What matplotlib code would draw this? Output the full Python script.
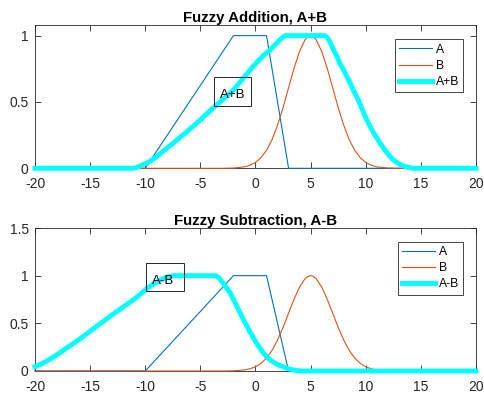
import matplotlib
matplotlib.use("Agg")
import matplotlib.pyplot as plt
from matplotlib.patches import Rectangle

plt.rcParams['font.family'] = ['Liberation Sans', 'DejaVu Sans']
plt.rcParams['axes.unicode_minus'] = False

# ---- data ----
a_x = [-20, -10, -2, 1, 3, 20]
a_y = [0, 0, 1, 1, 0, 0]

b_x = [-20, -3, -2, -1, -0.5, 0, 0.5, 1, 1.5, 2, 2.5, 3, 3.5, 4, 4.5, 4.75, 5,
       5.25, 5.5, 6, 6.5, 7, 7.5, 8, 8.5, 9, 9.5, 10, 10.5, 11, 12, 13, 20]
b_y = [0, 0, 0.002, 0.011, 0.023, 0.044, 0.080, 0.135, 0.216, 0.325, 0.458, 0.607, 0.755, 0.882, 0.969, 0.992, 1.0,
       0.992, 0.969, 0.882, 0.755, 0.607, 0.458, 0.325, 0.216, 0.135, 0.080, 0.044, 0.023, 0.011, 0.002, 0, 0]

sum_x = [-20, -11.1, -10.8, -10.4, -10.0, -9.6, -9.0, -8.5, -8.0, -7.45, -6.9, -6.3, -5.7, -5.0,
         -4.3, -3.5, -2.8, -2.0, -1.5, -1.0, -0.6, -0.2, 0.2, 0.6, 1.0, 1.3, 1.7, 2.0, 2.3, 2.5, 2.7,
         6.3, 6.5, 6.7, 6.9, 7.1, 7.4, 7.66, 8.0, 8.3, 8.6, 8.87, 9.2, 9.5, 9.8, 10.09, 10.4, 10.7,
         11.0, 11.29, 11.6, 11.9, 12.2, 12.5, 12.85, 13.2, 13.6, 14.0, 14.3, 20]
sum_y = [0, 0, 0.005, 0.02, 0.035, 0.05, 0.085, 0.12, 0.155, 0.19, 0.23, 0.27, 0.315, 0.365,
         0.42, 0.48, 0.53, 0.59, 0.64, 0.69, 0.73, 0.77, 0.805, 0.84, 0.87, 0.89, 0.925, 0.95, 0.975, 0.99, 1.0,
         1.0, 0.985, 0.96, 0.925, 0.89, 0.84, 0.79, 0.74, 0.69, 0.64, 0.59, 0.535, 0.48, 0.42, 0.365, 0.315, 0.27,
         0.23, 0.19, 0.155, 0.12, 0.09, 0.063, 0.042, 0.025, 0.012, 0.004, 0, 0]

diff_x = [-20, -19.5, -19, -18.5, -18, -17.4, -16.7, -16, -15.2, -14.4, -13.7, -13, -12.2, -11.4,
          -10.6, -9.9, -9.3, -8.7, -8.3, -8.0, -7.7, -7.4,
          -3.6, -3.3, -3.0, -2.65, -2.3, -2.0, -1.7, -1.4, -1.1, -0.8, -0.5, -0.2, 0.1, 0.4, 0.7,
          1.0, 1.3, 1.6, 1.9, 2.2, 2.5, 2.8, 3.1, 3.4, 3.7, 4.0, 4.3, 20]
diff_y = [0.045, 0.07, 0.10, 0.135, 0.17, 0.22, 0.275, 0.33, 0.40, 0.47, 0.53, 0.59, 0.655, 0.72,
          0.79, 0.86, 0.91, 0.95, 0.972, 0.985, 0.995, 1.0,
          1.0, 0.975, 0.93, 0.875, 0.82, 0.75, 0.68, 0.61, 0.54, 0.475, 0.41, 0.35, 0.29, 0.24, 0.19,
          0.15, 0.12, 0.095, 0.075, 0.058, 0.045, 0.03, 0.02, 0.011, 0.005, 0.002, 0, 0]

x_ticks = [-20, -15, -10, -5, 0, 5, 10, 15, 20]
top_yticks = [0, 0.5, 1]
bot_yticks = [0, 0.5, 1, 1.5]

C_A = '#0072BD'
C_B = '#D95319'
C_C = '#00FFFF'
DARK = '#262626'

fig = plt.figure(figsize=(4.85, 3.96), dpi=100)
W, H = 485, 396

def make_axes(top_px, bottom_px):
    left, right = 35, 476
    return fig.add_axes([left / W, 1 - bottom_px / H, (right - left) / W, (bottom_px - top_px) / H])

ax1 = make_axes(25, 168.3)
ax2 = make_axes(228, 371)

def style(ax, yticks, ylim):
    ax.set_xlim(-20, 20)
    ax.set_ylim(*ylim)
    ax.set_xticks(x_ticks)
    ax.set_xticklabels([str(t) for t in x_ticks])
    ax.set_yticks(yticks)
    ax.set_yticklabels(['%g' % t for t in yticks])
    ax.tick_params(direction='in', length=4, width=0.6, colors=DARK, labelsize=10,
                   top=True, right=True)
    ax.tick_params(axis='x', pad=6.5)
    ax.tick_params(axis='y', pad=4.5)
    for s in ax.spines.values():
        s.set_linewidth(0.6)
        s.set_color(DARK)
        s.set_zorder(1)

def draw(ax, cx, cy, clabel):
    ax.plot(a_x, a_y, color=C_A, lw=0.8, label='A', zorder=3, clip_on=False)
    ax.plot(b_x, b_y, color=C_B, lw=0.8, label='B', zorder=3, clip_on=False)
    ax.plot(cx, cy, color=C_C, lw=3.5, label=clabel, zorder=4, clip_on=False,
            solid_joinstyle='round')

draw(ax1, sum_x, sum_y, 'A+B')
style(ax1, top_yticks, (0, 1.08))
ax1.set_title('Fuzzy Addition, A+B', fontsize=10.8, fontweight='bold', color='black', pad=2.5)

draw(ax2, diff_x, diff_y, 'A-B')
style(ax2, bot_yticks, (0, 1.5))
ax2.set_title('Fuzzy Subtraction, A-B', fontsize=10.8, fontweight='bold', color='black', pad=2.5)

for ax, anchor_y in ((ax1, 0.900), (ax2, 0.904)):
    leg = ax.legend(loc='upper right', bbox_to_anchor=(0.971, anchor_y), borderaxespad=0,
                    fontsize=8.7, handlelength=2.7, handletextpad=0.3, labelspacing=0.35,
                    borderpad=0.35, fancybox=False, framealpha=1, edgecolor=DARK)
    leg.get_frame().set_linewidth(0.6)
    leg.set_zorder(10)

# text boxes
ax1.add_patch(Rectangle((-3.76, 0.47), 3.32, 0.22, fill=False, edgecolor=DARK, lw=0.7,
                        zorder=6, clip_on=False))
ax1.text(-3.2, 0.555, 'A+B', fontsize=9.5, ha='left', va='center', color='black', zorder=7)

ax2.add_patch(Rectangle((-9.96, 0.835), 3.45, 0.30, fill=False, edgecolor=DARK, lw=0.7,
                        zorder=6, clip_on=False))
ax2.text(-9.35, 0.945, 'A-B', fontsize=9.5, ha='left', va='center', color='black', zorder=7)

fig.savefig('out.png', dpi=100)
